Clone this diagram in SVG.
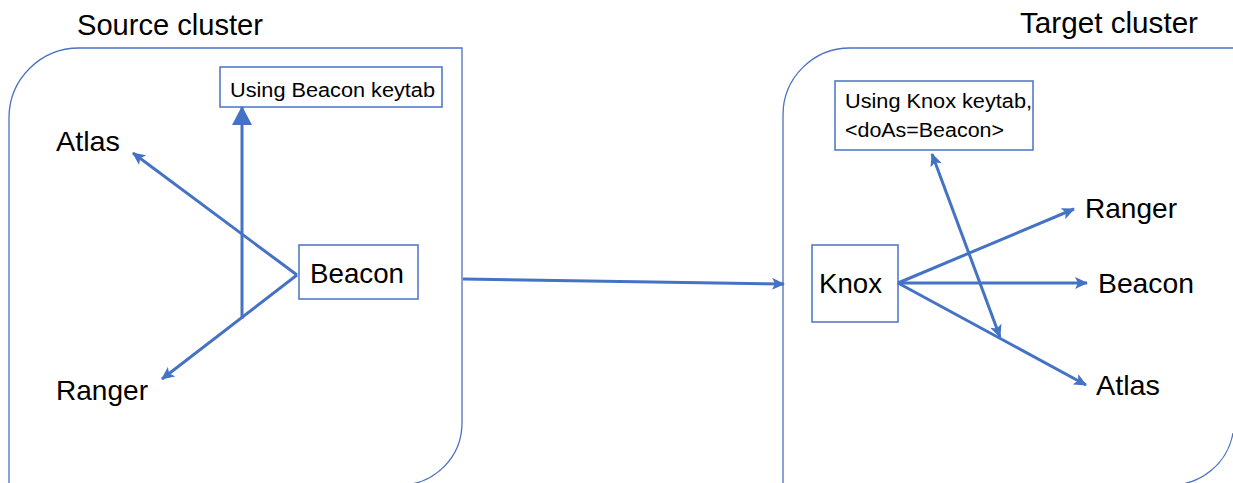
<svg xmlns="http://www.w3.org/2000/svg" width="1233" height="483" viewBox="0 0 1233 483">
<style>
.cluster{fill:none;stroke:#4a72c0;stroke-width:1.3}
.box{fill:#fff;stroke:#4a72c0;stroke-width:1.5}
.edge{fill:none;stroke:#4472c4;stroke-width:3}
.t{font-family:"Liberation Sans",Arial,sans-serif;fill:#000}
.title{font-size:29px}
.lbl{font-size:28px}
.small{font-size:20px}
</style>
<defs>
<marker id="ah" markerUnits="userSpaceOnUse" markerWidth="14" markerHeight="12" refX="12" refY="6" orient="auto-start-reverse">
<path d="M0,0 L13,6 L0,12 L3,6 Z" fill="#4472c4"/>
</marker>
<marker id="big" markerUnits="userSpaceOnUse" markerWidth="20" markerHeight="20" refX="18" refY="10" orient="auto">
<path d="M0,0 L19,10 L0,20 Z" fill="#4472c4"/>
</marker>
</defs>
<g id="source-cluster">
<path class="cluster" d="M9,490 L9,118 A70,70 0 0 1 79,48 L462,48 L462,423 A62,62 0 0 1 400,485"/>
<text class="t title" x="77" y="35" textLength="186" lengthAdjust="spacingAndGlyphs">Source cluster</text>
</g>
<g id="target-cluster">
<path class="cluster" d="M783,490 L783,115 A67,67 0 0 1 850,48 L1240,48"/>
<path class="cluster" d="M1233,433 A63,63 0 0 1 1170,485"/>
<text class="t title" x="1020" y="33" textLength="178" lengthAdjust="spacingAndGlyphs">Target cluster</text>
</g>
<g id="src-keytab">
<rect class="box" x="220" y="67" width="222" height="40"/>
<text class="t small" x="230" y="97" textLength="205" lengthAdjust="spacingAndGlyphs">Using Beacon keytab</text>
</g>
<g id="src-beacon">
<rect class="box" x="299" y="245" width="119" height="54"/>
<text class="t lbl" x="310" y="283" textLength="94" lengthAdjust="spacingAndGlyphs">Beacon</text>
</g>
<g id="src-atlas">
<text class="t lbl" x="56" y="151" textLength="64" lengthAdjust="spacingAndGlyphs">Atlas</text>
</g>
<g id="src-ranger">
<text class="t lbl" x="56" y="400" textLength="92" lengthAdjust="spacingAndGlyphs">Ranger</text>
</g>
<g id="tgt-keytab">
<rect class="box" x="835" y="81" width="198" height="69"/>
<text class="t small" x="845" y="108" textLength="187" lengthAdjust="spacingAndGlyphs">Using Knox keytab,</text>
<text class="t small" x="845" y="137" textLength="159" lengthAdjust="spacingAndGlyphs">&lt;doAs=Beacon&gt;</text>
</g>
<g id="tgt-knox">
<rect class="box" x="812" y="245" width="86" height="77"/>
<text class="t lbl" x="819" y="293" textLength="63" lengthAdjust="spacingAndGlyphs">Knox</text>
</g>
<g id="tgt-ranger">
<text class="t lbl" x="1085" y="218" textLength="92" lengthAdjust="spacingAndGlyphs">Ranger</text>
</g>
<g id="tgt-beacon">
<text class="t lbl" x="1098" y="293" textLength="96" lengthAdjust="spacingAndGlyphs">Beacon</text>
</g>
<g id="tgt-atlas">
<text class="t lbl" x="1096" y="395" textLength="64" lengthAdjust="spacingAndGlyphs">Atlas</text>
</g>
<g id="connectors">
<line class="edge" x1="297" y1="275" x2="133" y2="153" marker-end="url(#ah)"/>
<line class="edge" x1="297" y1="275" x2="162" y2="379" marker-end="url(#ah)"/>
<line class="edge" x1="242" y1="319" x2="242" y2="107" marker-end="url(#big)"/>
<line class="edge" x1="463" y1="279" x2="784" y2="284" marker-end="url(#ah)"/>
<line class="edge" x1="898" y1="283" x2="1074" y2="209" marker-end="url(#ah)"/>
<line class="edge" x1="898" y1="283" x2="1087" y2="283" marker-end="url(#ah)"/>
<line class="edge" x1="898" y1="283" x2="1086" y2="385" marker-end="url(#ah)"/>
<line class="edge" x1="932" y1="154" x2="1000" y2="337" marker-start="url(#ah)" marker-end="url(#ah)"/>
</g>
</svg>
